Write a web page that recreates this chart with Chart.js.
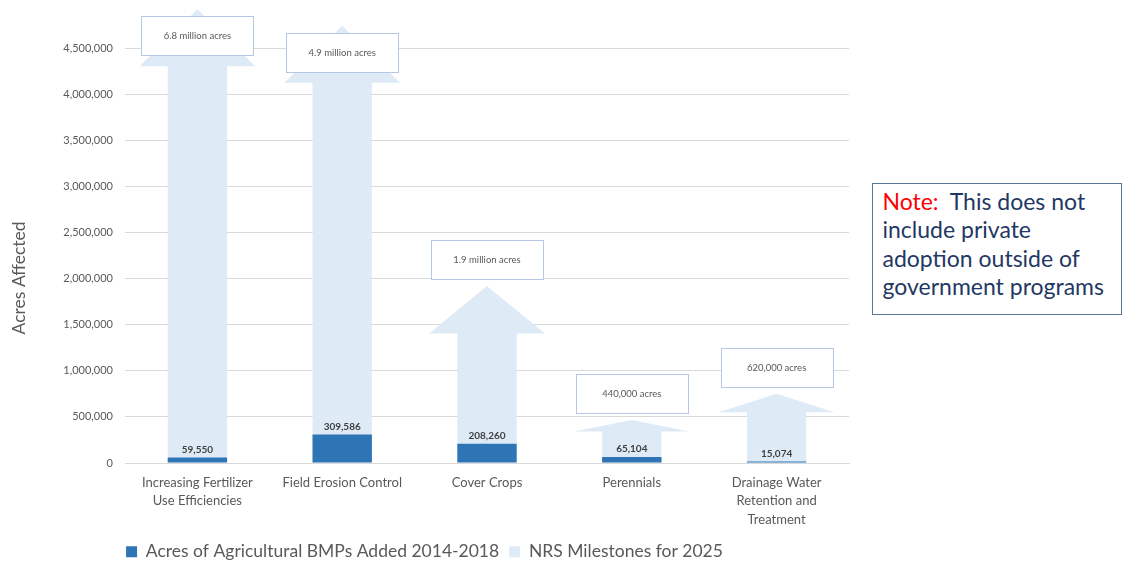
<!DOCTYPE html>
<html>
<head>
<meta charset="utf-8">
<script src="https://cdn.jsdelivr.net/npm/chart.js@4"></script>
<style>
  body { margin: 0; background: #fff; }
  #wrap { position: relative; width: 1124px; height: 561px; }
  #chartBox { position: absolute; left: 0; top: 0; width: 850px; height: 561px; }
  #note {
    position: absolute; left: 872px; top: 183px; width: 250px; height: 132px;
    box-sizing: border-box; border: 1.5px solid #5a7796; padding: 3px 0 0 9.5px;
    font-family: Lato, sans-serif; font-size: 23px; line-height: 28.3px; color: #1f3864;
    white-space: nowrap;
  }
  #note .red { color: #ff0000; }
</style>
</head>
<body>
<div id="wrap">
  <div id="chartBox"><canvas id="myChart" width="850" height="561"></canvas></div>
  <div id="note"><span class="red">Note:</span>&nbsp; This does not<br>include private<br>adoption outside of<br>government programs</div>
</div>
<script>
const categories = [
  ["Increasing Fertilizer", "Use Efficiencies"],
  "Field Erosion Control",
  "Cover Crops",
  "Perennials",
  ["Drainage Water", "Retention and", "Treatment"]
];
const bmpsAdded = [59550, 309586, 208260, 65104, 15074];
// arrow tips as drawn (the two largest arrows are cut short to fit)
const milestones = [4920000, 4740000, 1920000, 466000, 750000];
const milestoneLabels = ["6.8 million acres", "4.9 million acres", "1.9 million acres", "440,000 acres", "620,000 acres"];

const FONT = "Lato, 'Open Sans', sans-serif";

// draws the milestone dataset as block arrows and puts the label boxes on top
const arrowPlugin = {
  id: 'arrows',
  beforeDatasetDraw(chart, args) {
    if (args.index !== 1) return;
    const ctx = chart.ctx;
    const meta = chart.getDatasetMeta(1);
    ctx.save();
    ctx.fillStyle = '#deebf7';
    meta.data.forEach(bar => {
      const half = bar.width / 2;
      const headHalf = bar.width * 0.975;
      const headH = Math.min(57, (bar.base - bar.y) * 0.27);
      ctx.beginPath();
      ctx.moveTo(bar.x - half, bar.base);
      ctx.lineTo(bar.x - half, bar.y + headH);
      ctx.lineTo(bar.x - headHalf, bar.y + headH);
      ctx.lineTo(bar.x, bar.y);
      ctx.lineTo(bar.x + headHalf, bar.y + headH);
      ctx.lineTo(bar.x + half, bar.y + headH);
      ctx.lineTo(bar.x + half, bar.base);
      ctx.closePath();
      ctx.fill();
    });
    ctx.restore();
    return false;
  },
  afterDatasetsDraw(chart) {
    const ctx = chart.ctx;
    ctx.save();
    // value labels above the dark bars
    ctx.font = "bold 10px " + FONT;
    ctx.fillStyle = '#404040';
    ctx.textAlign = 'center';
    ctx.textBaseline = 'middle';
    chart.getDatasetMeta(0).data.forEach((bar, i) => {
      ctx.fillText(bmpsAdded[i].toLocaleString('en-US'), bar.x, bar.y - 8);
    });
    // milestone boxes
    ctx.font = "9.5px " + FONT;
    chart.getDatasetMeta(1).data.forEach((bar, i) => {
      const w = 112, h = 39;
      let top = bar.y - 7 - h;
      if (top < 16) top = bar.y + 7;
      const left = Math.round(bar.x - w / 2) + 0.5;
      top = Math.round(top) + 0.5;
      ctx.fillStyle = '#ffffff';
      ctx.fillRect(left, top, w, h);
      ctx.strokeStyle = '#b4c7e7';
      ctx.lineWidth = 1;
      ctx.strokeRect(left, top, w, h);
      ctx.fillStyle = '#595959';
      ctx.fillText(milestoneLabels[i], bar.x, top + h / 2);
    });
    ctx.restore();
  }
};

new Chart("myChart", {
  type: "bar",
  data: {
    labels: categories,
    datasets: [{
      label: "Acres of Agricultural BMPs Added 2014-2018",
      data: bmpsAdded,
      backgroundColor: "#2e75b6",
      grouped: false,
      order: 0
    }, {
      label: "NRS Milestones for 2025",
      data: milestones,
      backgroundColor: "#deebf7",
      grouped: false,
      clip: false,
      order: 1
    }]
  },
  options: {
    responsive: false,
    animation: false,
    categoryPercentage: 1,
    barPercentage: 0.41,
    layout: { padding: { top: 48, right: 1, left: 0, bottom: 0 } },
    plugins: {
      legend: {
        position: 'bottom',
        maxHeight: 28,
        labels: {
          font: { family: FONT, size: 17.5 },
          color: '#595959',
          boxWidth: 11,
          boxHeight: 11,
          padding: 10
        }
      },
      tooltip: { enabled: false }
    },
    scales: {
      x: {
        afterFit: s => { s.height = 70; },
        grid: { display: false, drawTicks: false },
        border: { color: '#d9d9d9' },
        ticks: {
          color: '#595959',
          font: { family: FONT, size: 13, lineHeight: 1.4 },
          maxRotation: 0,
          autoSkip: false,
          padding: 11
        }
      },
      y: {
        min: 0,
        max: 4500000,
        afterFit: s => { s.width = 125; },
        border: { display: false },
        grid: { color: '#d9d9d9', drawTicks: false },
        ticks: {
          stepSize: 500000,
          color: '#595959',
          font: { family: FONT, size: 11 },
          padding: 12,
          callback: v => v.toLocaleString('en-US')
        },
        title: {
          display: true,
          // trailing spaces nudge the title a little below the axis centre
          text: 'Acres Affected' + ' '.repeat(10),
          color: '#595959',
          font: { family: FONT, size: 17.5 },
          padding: { top: 9, bottom: 4 }
        }
      }
    }
  },
  plugins: [arrowPlugin]
});
</script>
</body>
</html>
